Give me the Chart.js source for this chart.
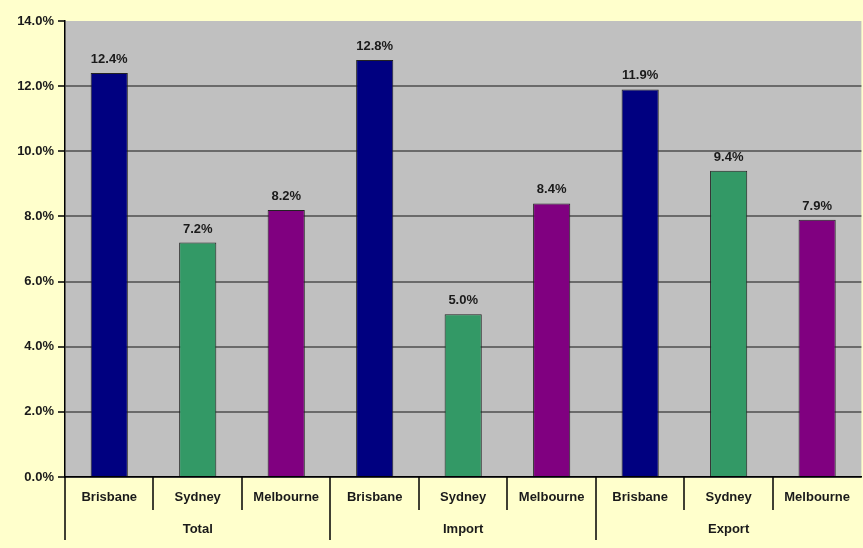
<!DOCTYPE html>
<html>
<head>
<meta charset="utf-8">
<script src="https://cdn.jsdelivr.net/npm/chart.js@4/dist/chart.umd.min.js"></script>
<style>
    html, body { margin: 0; padding: 0; background: #ffffcc; }
    #wrap { width: 863px; height: 548px; }
</style>
</head>
<body>
<div id="wrap"><canvas id="growth-chart"></canvas></div>
<script>
// chart data
const groups = ['Total', 'Import', 'Export'];
const cities = ['Brisbane', 'Sydney', 'Melbourne'];
const growth = [12.4, 7.2, 8.2, 12.8, 5.0, 8.4, 11.9, 9.4, 7.9]; // % per city, group by group
const yTicks = [0, 2, 4, 6, 8, 10, 12, 14];

const cityColors = { Brisbane: '#000080', Sydney: '#339966', Melbourne: '#800080' };

// one label per bar: cities repeated in each group
const barLabels = [];
groups.forEach(() => cities.forEach(c => barLabels.push(c)));

// grey plot area
const plotBg = {
    id: 'plotBg',
    beforeDraw(chart) {
        const a = chart.chartArea;
        const ctx = chart.ctx;
        ctx.save();
        ctx.fillStyle = '#c0c0c0';
        ctx.fillRect(a.left, a.top, a.right - a.left, a.bottom - a.top);
        ctx.restore();
    }
};

// value labels above the bars + separators under the axis
const extras = {
    id: 'extras',
    afterDraw(chart) {
        const ctx = chart.ctx;
        const meta = chart.getDatasetMeta(0);
        ctx.save();
        ctx.font = 'bold 13px "Liberation Sans", Arial, sans-serif';
        ctx.fillStyle = '#1a1a1a';
        ctx.textAlign = 'center';
        ctx.textBaseline = 'bottom';
        meta.data.forEach((bar, i) => {
            ctx.fillText(growth[i].toFixed(1) + '%', bar.x, bar.y - 7);
        });

        // separators between city labels (short) and groups (long), no line at the right edge
        const xs = chart.scales.x;
        const bottom = chart.chartArea.bottom;
        ctx.strokeStyle = '#000';
        ctx.lineWidth = 1.5;
        for (let i = 0; i < barLabels.length; i++) {
            const x = Math.round(xs.getPixelForValue(i - 0.5));
            const len = (i % cities.length === 0) ? 63 : 33;
            ctx.beginPath();
            ctx.moveTo(x, bottom);
            ctx.lineTo(x, bottom + len);
            ctx.stroke();
        }
        ctx.restore();
    }
};

const font = { family: '"Liberation Sans", Arial, sans-serif', size: 13, weight: 'bold' };

new Chart(document.getElementById('growth-chart'), {
    type: 'bar',
    data: {
        labels: barLabels,
        datasets: [{
            data: growth,
            backgroundColor: barLabels.map(c => cityColors[c]),
            borderColor: '#222',
            borderWidth: 1,
            barPercentage: 0.42,
            categoryPercentage: 1
        }]
    },
    options: {
        responsive: true,
        maintainAspectRatio: false,
        animation: false,
        layout: { padding: { top: 21, right: 0, bottom: 0, left: 0 } },
        plugins: {
            legend: { display: false },
            tooltip: { enabled: false }
        },
        scales: {
            y: {
                min: 0,
                max: 14,
                afterBuildTicks: s => { s.ticks = yTicks.map(v => ({ value: v })); },
                afterFit: s => { s.width = 65; },
                ticks: {
                    color: '#1a1a1a',
                    font: font,
                    padding: 4,
                    callback: v => Number(v).toFixed(1) + '%'
                },
                grid: {
                    color: c => (c.tick && c.tick.value === 14) ? 'rgba(0,0,0,0)' : '#6a6a6a',
                    lineWidth: 2,
                    tickColor: '#000',
                    tickLength: 7,
                    tickWidth: 1.5
                },
                border: { color: '#000', width: 1.5 }
            },
            x: {
                afterFit: s => { s.height = 36; },
                ticks: { color: '#1a1a1a', font: font, padding: 13, maxRotation: 0, autoSkip: false },
                grid: { display: false, drawTicks: false },
                border: { color: '#000', width: 1.5 }
            },
            x2: {
                type: 'category',
                position: 'bottom',
                labels: groups,
                afterFit: s => { s.height = 35; },
                ticks: { color: '#1a1a1a', font: font, padding: 9, maxRotation: 0 },
                grid: { display: false, drawTicks: false },
                border: { display: false }
            }
        }
    },
    plugins: [plotBg, extras]
});
</script>
</body>
</html>
